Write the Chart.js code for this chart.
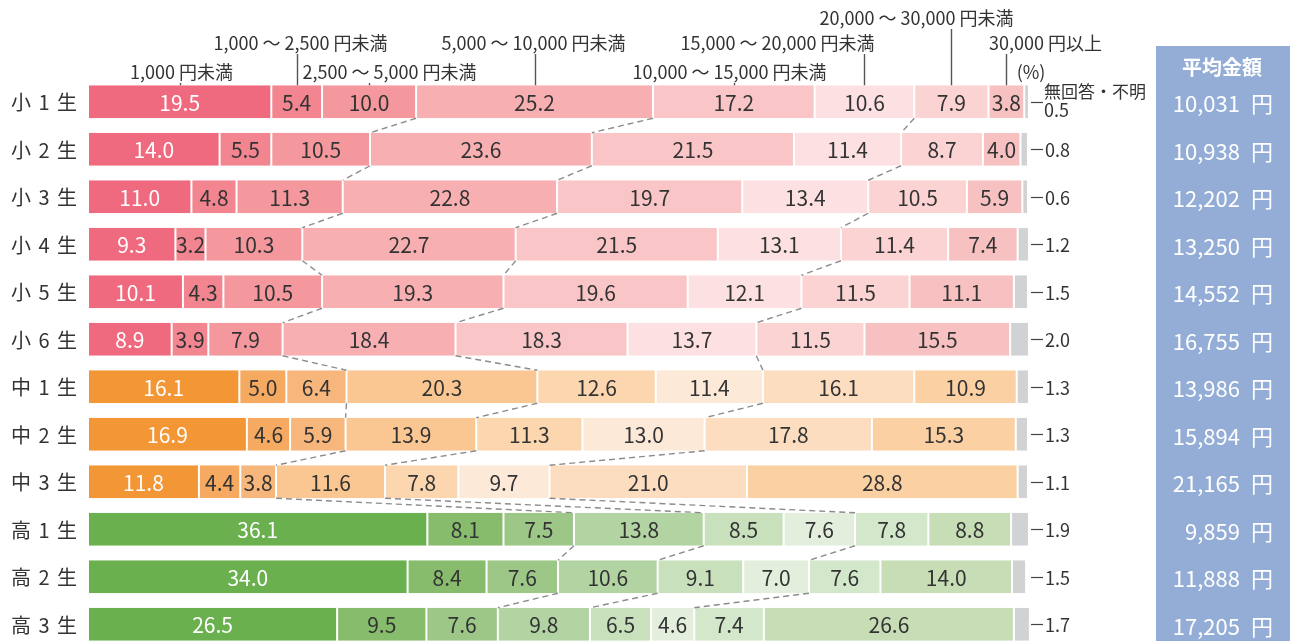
<!DOCTYPE html>
<html lang="ja">
<head>
<meta charset="utf-8">
<script src="https://cdn.jsdelivr.net/npm/chart.js@4/dist/chart.umd.min.js"></script>
<style>
html,body{margin:0;padding:0;overflow:hidden;background:#fff;}
#wrap{position:absolute;left:0;top:0;width:1290px;height:660px;}
</style>
</head>
<body>
<div id="wrap"><canvas id="c" width="1290" height="660"></canvas></div>
<script>
// ---- data ----
const categories = ['小 1 生','小 2 生','小 3 生','小 4 生','小 5 生','小 6 生','中 1 生','中 2 生','中 3 生','高 1 生','高 2 生','高 3 生'];
const seriesNames = ['1,000 円未満','1,000 〜 2,500 円未満','2,500 〜 5,000 円未満','5,000 〜 10,000 円未満','10,000 〜 15,000 円未満','15,000 〜 20,000 円未満','20,000 〜 30,000 円未満','30,000 円以上','無回答・不明'];
const under1000   = [19.5, 14.0, 11.0, 9.3, 10.1, 8.9, 16.1, 16.9, 11.8, 36.1, 34.0, 26.5];
const r1000_2500  = [5.4, 5.5, 4.8, 3.2, 4.3, 3.9, 5.0, 4.6, 4.4, 8.1, 8.4, 9.5];
const r2500_5000  = [10.0, 10.5, 11.3, 10.3, 10.5, 7.9, 6.4, 5.9, 3.8, 7.5, 7.6, 7.6];
const r5000_10000 = [25.2, 23.6, 22.8, 22.7, 19.3, 18.4, 20.3, 13.9, 11.6, 13.8, 10.6, 9.8];
const r10000_15000= [17.2, 21.5, 19.7, 21.5, 19.6, 18.3, 12.6, 11.3, 7.8, 8.5, 9.1, 6.5];
const r15000_20000= [10.6, 11.4, 13.4, 13.1, 12.1, 13.7, 11.4, 13.0, 9.7, 7.6, 7.0, 4.6];
const r20000_30000= [7.9, 8.7, 10.5, 11.4, 11.5, 11.5, 16.1, 17.8, 21.0, 7.8, 7.6, 7.4];
const over30000   = [3.8, 4.0, 5.9, 7.4, 11.1, 15.5, 10.9, 15.3, 28.8, 8.8, 14.0, 26.6];
const noAnswer    = [0.5, 0.8, 0.6, 1.2, 1.5, 2.0, 1.3, 1.3, 1.1, 1.9, 1.5, 1.7];
const averageYen  = ['10,031','10,938','12,202','13,250','14,552','16,755','13,986','15,894','21,165','9,859','11,888','17,205'];
const averageTitle = '平均金額';
const yenUnit = '円';
const unitLabel = '(%)';

// ---- styles / layout ----
const pink   = ['#EF6A7E','#F2858F','#F4989D','#F7AFB2','#F9C5C6','#FDE1E2','#FBD3D3','#F8C1C1','#D1D2D4'];
const orange = ['#F39736','#F5A961','#F7B67B','#FAC792','#FBD6AF','#FDE9D8','#FCDDBF','#FBD1A4','#D1D2D4'];
const green  = ['#6BB04F','#87BC6D','#9CC787','#B2D4A3','#C8E0BC','#E3EFDC','#D3E7CA','#C6DDB5','#D1D2D4'];
function groupOf(i){ return i < 6 ? pink : (i < 9 ? orange : green); }
const headerLevelY = [72, 43, 18];
const headerLevel  = [0, 1, 0, 1, 0, 1, 2, 1];
const headerShift  = [1, 3, 20, -2, -5, -87, -35, 39];
const FONT = '"Noto Sans CJK JP", "Noto Sans", sans-serif';
const TEXT = '#333333';

const seriesValues = [under1000, r1000_2500, r2500_5000, r5000_10000, r10000_15000, r15000_20000, r20000_30000, over30000, noAnswer];

const datasets = seriesValues.map((vals, k) => ({
  label: seriesNames[k],
  data: vals,
  backgroundColor: ctx => groupOf(ctx.dataIndex)[k],
  borderColor: '#ffffff',
  borderWidth: {left: 1, right: 1, top: 0, bottom: 0},
  borderSkipped: false,
  barPercentage: 0.695,
  categoryPercentage: 1.0
}));

const decorPlugin = {
  id: 'decor',
  afterDatasetsDraw(chart) {
    const ctx = chart.ctx;
    const metas = seriesValues.map((_, k) => chart.getDatasetMeta(k));
    const half = metas[0].data[0].height / 2;

    // dashed connectors at boundaries after 5,000 / 10,000 / 20,000
    ctx.save();
    ctx.strokeStyle = '#8c8c8c';
    ctx.lineWidth = 1.4;
    ctx.setLineDash([6, 4]);
    [2, 3, 5].forEach(k => {
      for (let i = 0; i < categories.length - 1; i++) {
        const a = metas[k].data[i], b = metas[k].data[i + 1];
        ctx.beginPath();
        ctx.moveTo(a.x, a.y + half);
        ctx.lineTo(b.x, b.y - half);
        ctx.stroke();
      }
    });
    ctx.restore();

    // in-bar value labels
    ctx.save();
    ctx.font = '21px ' + FONT;
    ctx.textAlign = 'center';
    ctx.textBaseline = 'middle';
    for (let k = 0; k < 8; k++) {
      metas[k].data.forEach((el, i) => {
        ctx.fillStyle = k === 0 ? '#ffffff' : TEXT;
        ctx.fillText(seriesValues[k][i].toFixed(1), (el.x + el.base) / 2, el.y + 1);
      });
    }
    ctx.restore();
  },
  afterDraw(chart) {
    const ctx = chart.ctx;
    const ys = chart.scales.y;
    const metas = seriesValues.map((_, k) => chart.getDatasetMeta(k));
    const top0 = metas[0].data[0].y - metas[0].data[0].height / 2;
    ctx.save();

    // row labels
    ctx.fillStyle = TEXT;
    ctx.font = '20px ' + FONT;
    ctx.textAlign = 'left';
    ctx.textBaseline = 'middle';
    if ('letterSpacing' in ctx) ctx.letterSpacing = '1.5px';
    categories.forEach((c, i) => ctx.fillText(c, 11, ys.getPixelForValue(i) + 1));
    if ('letterSpacing' in ctx) ctx.letterSpacing = '0px';

    // header labels with leader lines
    ctx.font = '18px ' + FONT;
    ctx.textAlign = 'center';
    ctx.strokeStyle = '#555555';
    ctx.lineWidth = 1.4;
    for (let k = 0; k < 8; k++) {
      const el = metas[k].data[0];
      const lx = Math.round((el.x + el.base) / 2) + 0.5;
      const ty = headerLevelY[headerLevel[k]];
      ctx.fillText(seriesNames[k], lx + headerShift[k], ty);
      ctx.beginPath();
      ctx.moveTo(lx, ty + 11);
      ctx.lineTo(lx, top0);
      ctx.stroke();
    }
    ctx.fillText(unitLabel, 1031, 72);

    // no-answer labels
    ctx.textAlign = 'left';
    ctx.strokeStyle = '#444444';
    ctx.lineWidth = 1.2;
    noAnswer.forEach((v, i) => {
      const y = ys.getPixelForValue(i);
      ctx.beginPath();
      ctx.moveTo(1031, Math.round(y) + 0.5);
      ctx.lineTo(1043, Math.round(y) + 0.5);
      ctx.stroke();
      if (i === 0) {
        ctx.font = '17px ' + FONT;
        ctx.fillText(seriesNames[8], 1044, y - 10);
        ctx.font = '18px ' + FONT;
        ctx.fillText(v.toFixed(1), 1044, y + 8);
      } else {
        ctx.font = '18px ' + FONT;
        ctx.fillText(v.toFixed(1), 1045, y + 1);
      }
    });

    // average panel
    ctx.fillStyle = '#94ADD6';
    ctx.fillRect(1156, 46, 1290 - 1156, chart.height - 46);
    ctx.fillStyle = '#ffffff';
    ctx.textAlign = 'center';
    ctx.font = 'bold 20px ' + FONT;
    ctx.fillText(averageTitle, 1222, 67);
    ctx.textAlign = 'right';
    ctx.font = '22px ' + FONT;
    averageYen.forEach((v, i) => ctx.fillText(v + '\u2002' + yenUnit, 1273, ys.getPixelForValue(i) + 2));
    ctx.restore();
  }
};

new Chart(document.getElementById('c'), {
  type: 'bar',
  data: { labels: categories, datasets },
  options: {
    indexAxis: 'y',
    responsive: false,
    animation: false,
    devicePixelRatio: 1,
    layout: { padding: { left: 88, right: 262, top: 78, bottom: 12 } },
    scales: {
      x: { stacked: true, min: 0, max: 100, display: false },
      y: { stacked: true, display: false, offset: true }
    },
    plugins: { legend: { display: false }, tooltip: { enabled: false } },
    clip: false
  },
  plugins: [decorPlugin]
});
</script>
</body>
</html>
